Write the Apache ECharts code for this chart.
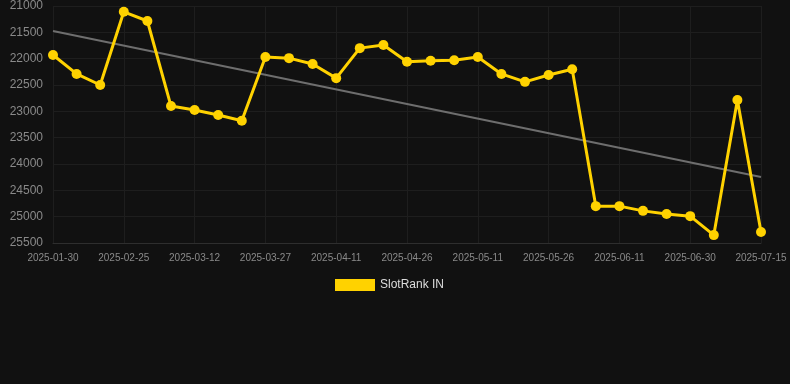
<!DOCTYPE html>
<html><head><meta charset="utf-8">
<script src="https://cdn.jsdelivr.net/npm/echarts@6/dist/echarts.min.js"></script>
<style>html,body{margin:0;padding:0;background:#111111;}#c{width:790px;height:384px;}</style>
</head><body><div id="c"></div>
<script>
const categories = ['2025-01-30','2025-02-08','2025-02-17','2025-02-25','2025-03-02','2025-03-07','2025-03-12','2025-03-17','2025-03-22','2025-03-27','2025-04-01','2025-04-06','2025-04-11','2025-04-16','2025-04-21','2025-04-26','2025-05-01','2025-05-06','2025-05-11','2025-05-16','2025-05-21','2025-05-26','2025-05-31','2025-06-06','2025-06-11','2025-06-17','2025-06-24','2025-06-30','2025-07-05','2025-07-10','2025-07-15'];
const rankValues = [21930,22290,22500,21110,21285,22900,22975,23070,23180,21970,21990,22100,22370,21800,21740,22060,22040,22030,21970,22290,22440,22310,22200,24800,24800,24890,24950,24990,25350,22785,25290];
const trendValues = [21475,24245];
const seriesName = 'SlotRank IN';

const chart = echarts.init(document.getElementById('c'));
chart.setOption({
  backgroundColor:'#111111',
  animation:false,
  grid:{left:53,right:29,top:6,bottom:141},
  xAxis:{type:'category',data:categories,boundaryGap:false,
    axisLine:{show:true,lineStyle:{color:'#2e2e2e'}},axisTick:{show:false},
    axisLabel:{color:'#8a8a8a',fontSize:10,interval:2,margin:10,fontFamily:'Arial, Liberation Sans, sans-serif'},
    splitLine:{show:true,interval:2,lineStyle:{color:'#1e1e1e'}}},
  yAxis:{type:'value',inverse:true,min:21000,max:25500,interval:500,
    axisLine:{show:false},axisTick:{show:false},
    axisLabel:{color:'#8a8a8a',fontSize:12,margin:10,formatter:v=>String(v),fontFamily:'Arial, Liberation Sans, sans-serif'},
    splitLine:{lineStyle:{color:'#1e1e1e'}}},
  legend:{bottom:88,left:330,itemWidth:40,itemHeight:12,icon:'rect',
    textStyle:{color:'#dddddd',fontSize:12,fontFamily:'Arial, Liberation Sans, sans-serif'},
    data:[seriesName]},
  series:[
    {name:'trend',type:'line',data:[[categories[0],trendValues[0]],[categories[categories.length-1],trendValues[1]]],
      symbol:'none',lineStyle:{color:'#6e6e6e',width:2},z:1,silent:true},
    {name:seriesName,type:'line',data:rankValues,symbol:'circle',symbolSize:10,
      itemStyle:{color:'#ffd200'},lineStyle:{color:'#ffd200',width:3},z:2}
  ]
});
</script></body></html>
